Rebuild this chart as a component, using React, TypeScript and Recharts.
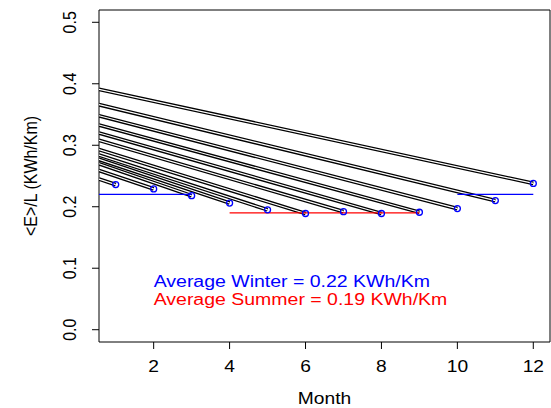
import React from 'react';
import {
  ComposedChart,
  Line,
  Scatter,
  XAxis,
  YAxis,
  ReferenceArea,
  ReferenceDot,
} from 'recharts';

const months = [1, 2, 3, 4, 5, 6, 7, 8, 9, 10, 11, 12];
// value of each trend line where it enters the plot on the left
const startValues = [0.245, 0.259, 0.27, 0.277, 0.284, 0.293, 0.308, 0.32, 0.333, 0.348, 0.366, 0.391];
// monthly <E>/L, the blue circles
const endValues = [0.236, 0.229, 0.218, 0.206, 0.195, 0.189, 0.192, 0.189, 0.191, 0.197, 0.21, 0.238];

const winterAvg = 0.22;
const summerAvg = 0.19;
const winterSpans = [
  [0.56, 3],
  [10, 12],
];
const summerSpans = [[4, 9]];

const xTicks = [2, 4, 6, 8, 10, 12];
const yTicks = [0, 0.1, 0.2, 0.3, 0.4, 0.5];
const xDomain = [0.56, 12.44];
const yDomain = [-0.02, 0.52];

const legendX = 2;
const legendY = [0.07, 0.0405];

const FONT = '"Liberation Sans", Arial, Helvetica, sans-serif';
const SX = 1.2; // the source picture is stretched sideways
const BLUE = '#0000ff';
const RED = '#ff0000';

const trends = months.map((m, i) => [
  { x: xDomain[0], y: startValues[i] },
  { x: m, y: endValues[i] },
]);
const points = months.map((m, i) => ({ x: m, y: endValues[i] }));

function XTick({ x, y, payload }: any) {
  return (
    <g transform={`translate(${x},${y + 21}) scale(${SX},1)`}>
      <text textAnchor="middle" fontFamily={FONT} fontSize={16} fill="#000">
        {payload.value}
      </text>
    </g>
  );
}

function YTick({ x, y, payload }: any) {
  return (
    <g transform={`translate(${x - 14},${y}) scale(${SX},1) rotate(-90)`}>
      <text textAnchor="middle" fontFamily={FONT} fontSize={16} fill="#000">
        {payload.value.toFixed(1)}
      </text>
    </g>
  );
}

function XLabel({ viewBox }: any) {
  const cx = viewBox.x + viewBox.width / 2;
  return (
    <g transform={`translate(${cx},${viewBox.y + 62}) scale(${SX},1)`}>
      <text textAnchor="middle" fontFamily={FONT} fontSize={16} fill="#000">
        Month
      </text>
    </g>
  );
}

function YLabel({ viewBox }: any) {
  const cy = viewBox.y + viewBox.height / 2;
  return (
    <g transform={`translate(37,${cy}) scale(${SX},1) rotate(-90)`}>
      <text textAnchor="middle" fontFamily={FONT} fontSize={16} fill="#000">
        {'<E>/L (KWh/Km)'}
      </text>
    </g>
  );
}

function NoteLabel({ viewBox, text, color }: any) {
  return (
    <g transform={`translate(${viewBox.x},${viewBox.y}) scale(1.25,1)`}>
      <text textAnchor="start" fontFamily={FONT} fontSize={15.6} fill={color}>
        {text}
      </text>
    </g>
  );
}

function Ring({ cx, cy }: any) {
  return <circle cx={cx} cy={cy} r={3} fill="none" stroke={BLUE} strokeWidth={1.3} />;
}

export default function App() {
  return (
    <div style={{ position: 'absolute', left: 0, top: 0, background: '#fff' }}>
      <ComposedChart width={551} height={408} margin={{ top: 10, right: 1, bottom: 0, left: 0 }}>
        <XAxis
          type="number"
          dataKey="x"
          domain={xDomain}
          ticks={xTicks}
          allowDataOverflow
          axisLine={false}
          tickLine={{ stroke: '#000' }}
          tickSize={7}
          height={66}
          tick={<XTick />}
          label={<XLabel />}
        />
        <YAxis
          type="number"
          dataKey="y"
          domain={yDomain}
          ticks={yTicks}
          allowDataOverflow
          axisLine={false}
          tickLine={{ stroke: '#000' }}
          tickSize={7}
          width={99}
          tick={<YTick />}
          label={<YLabel />}
        />
        <ReferenceArea
          x1={xDomain[0]}
          x2={xDomain[1]}
          y1={yDomain[0]}
          y2={yDomain[1]}
          fill="none"
          stroke="#000"
          strokeWidth={1}
          ifOverflow="visible"
        />
        {trends.map((d, i) => (
          <Line
            key={`b${i}`}
            data={d}
            dataKey="y"
            stroke="#000"
            strokeWidth={3.8}
            dot={false}
            isAnimationActive={false}
          />
        ))}
        {trends.map((d, i) => (
          <Line
            key={`w${i}`}
            data={d}
            dataKey="y"
            stroke="#fff"
            strokeWidth={1.2}
            dot={false}
            isAnimationActive={false}
          />
        ))}
        {winterSpans.map((s, i) => (
          <Line
            key={`win${i}`}
            data={s.map((x) => ({ x, y: winterAvg }))}
            dataKey="y"
            stroke={BLUE}
            strokeWidth={1.2}
            dot={false}
            isAnimationActive={false}
          />
        ))}
        {summerSpans.map((s, i) => (
          <Line
            key={`sum${i}`}
            data={s.map((x) => ({ x, y: summerAvg }))}
            dataKey="y"
            stroke={RED}
            strokeWidth={1.2}
            dot={false}
            isAnimationActive={false}
          />
        ))}
        <Scatter data={points} shape={<Ring />} isAnimationActive={false} />
        <ReferenceDot
          x={legendX}
          y={legendY[0]}
          r={0}
          fill="none"
          stroke="none"
          ifOverflow="visible"
          label={<NoteLabel text={`Average Winter = ${winterAvg} KWh/Km`} color={BLUE} />}
        />
        <ReferenceDot
          x={legendX}
          y={legendY[1]}
          r={0}
          fill="none"
          stroke="none"
          ifOverflow="visible"
          label={<NoteLabel text={`Average Summer = ${summerAvg} KWh/Km`} color={RED} />}
        />
      </ComposedChart>
    </div>
  );
}
